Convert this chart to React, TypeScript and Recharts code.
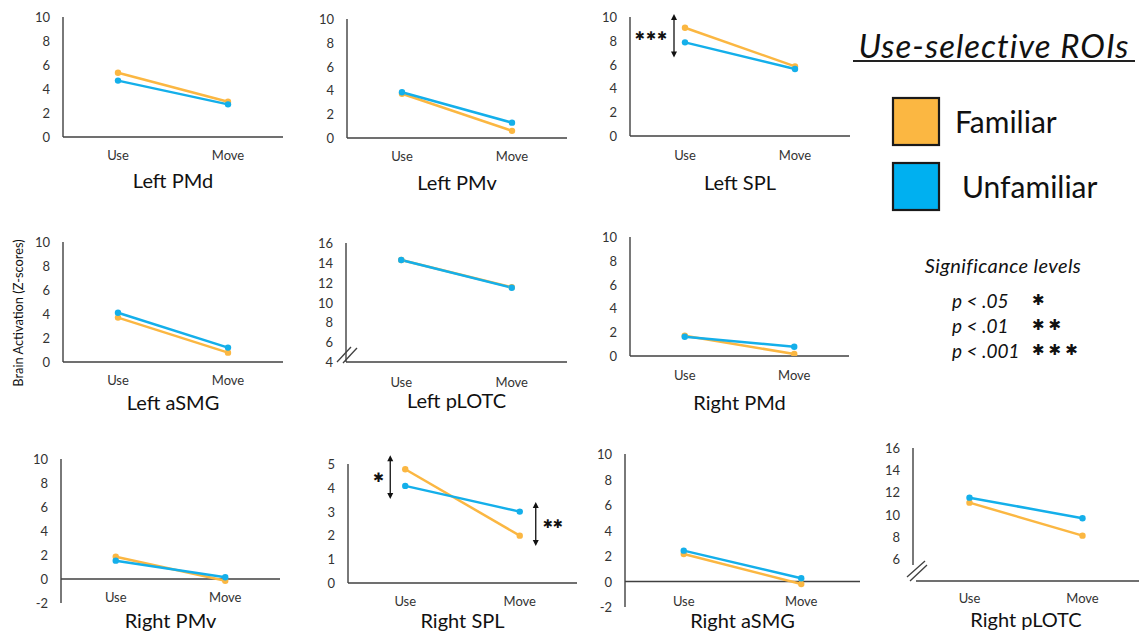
import React from 'react';
import { LineChart, Line, XAxis, YAxis, ReferenceLine } from 'recharts';

// ---------- data ----------
const conditions = ['Use', 'Move'];
const seriesNames = ['Familiar', 'Unfamiliar'];
const roiNames = [
  'Left PMd', 'Left PMv', 'Left SPL', 'Left aSMG', 'Left pLOTC',
  'Right PMd', 'Right PMv', 'Right SPL', 'Right aSMG', 'Right pLOTC',
];
const familiarValues = [
  [5.35, 2.94], [3.72, 0.6], [9.1, 5.85], [3.7, 0.78], [14.28, 11.55],
  [1.7, 0.17], [1.86, -0.14], [4.78, 1.99], [2.16, -0.2], [11.07, 8.09],
];
const unfamiliarValues = [
  [4.7, 2.72], [3.84, 1.29], [7.87, 5.63], [4.1, 1.2], [14.28, 11.49],
  [1.62, 0.78], [1.53, 0.14], [4.08, 3.0], [2.42, 0.25], [11.52, 9.66],
];
const yDomains = [
  [0, 10], [0, 10], [0, 10], [0, 10], [4, 16],
  [0, 10], [-2, 10], [0, 5], [-2, 10], [4, 16],
];
const yTickSets = [
  [0, 2, 4, 6, 8, 10], [0, 2, 4, 6, 8, 10], [0, 2, 4, 6, 8, 10], [0, 2, 4, 6, 8, 10],
  [4, 6, 8, 10, 12, 14, 16],
  [0, 2, 4, 6, 8, 10], [-2, 0, 2, 4, 6, 8, 10], [0, 1, 2, 3, 4, 5], [-2, 0, 2, 4, 6, 8, 10],
  [6, 8, 10, 12, 14, 16],
];
const significance = [
  { panel: 2, condition: 'Use', from: 10.25, to: 6.6, stars: 3 },
  { panel: 7, condition: 'Use', from: 5.37, to: 3.53, stars: 1 },
  { panel: 7, condition: 'Move', from: 3.4, to: 1.55, stars: 2 },
];
const sigLevels = ['p < .05', 'p < .01', 'p < .001'];

// ---------- layout / style ----------
const ORANGE = '#FBB742';
const BLUE = '#14AFEA';
const AXIS = '#404040';
const FONT = 'Lato, "Open Sans", sans-serif';

const layouts = [
  { axisX: 63, right: 283, top: 17, bottom: 137, labelDy: 18, titleY: 180 },
  { axisX: 347, right: 567, top: 19, bottom: 138, labelDy: 18, titleY: 182 },
  { axisX: 630, right: 850, top: 17, bottom: 136, labelDy: 19, titleY: 182 },
  { axisX: 63, right: 283, top: 242, bottom: 362, labelDy: 18, titleY: 402 },
  { axisX: 346, right: 567, top: 243, bottom: 362, labelDy: 20, titleY: 400, brk: 'through' },
  { axisX: 630, right: 849, top: 237, bottom: 356, labelDy: 19, titleY: 402 },
  { axisX: 61, right: 280, top: 459, bottom: 603, labelDy: 18, titleY: 620 },
  { axisX: 348, right: 577, top: 464, bottom: 583, labelDy: 18, titleY: 620 },
  { axisX: 625, right: 860, top: 454, bottom: 607, labelDy: 19, titleY: 620 },
  { axisX: 913, right: 1139, top: 448, bottom: 581, labelDy: 17, titleY: 619, brk: 'gap' },
];
const sigStyle = [
  { dx: -11, side: 'left', size: 12, spacing: 1 },
  { dx: -15, side: 'left', size: 13, spacing: 0 },
  { dx: 16, side: 'right', size: 12, spacing: 0 },
];

const YW = 45;
const MT = 14;
const XH = 40;
const TICK_FS = 13;

function makeSigShape(dx: number, stars: number, side: string, size: number, spacing: number) {
  return (p: any) => {
    const x = p.x1 + dx;
    const ya = Math.min(p.y1, p.y2);
    const yb = Math.max(p.y1, p.y2);
    const hl = 5;
    const hw = 3;
    const tx = side === 'left' ? x - 6 : x + 7;
    return (
      <g>
        <line x1={x} y1={ya + hl} x2={x} y2={yb - hl} stroke="#111" strokeWidth={1.3} />
        <polygon points={`${x},${ya} ${x - hw},${ya + hl + 1} ${x + hw},${ya + hl + 1}`} fill="#111" />
        <polygon points={`${x},${yb} ${x - hw},${yb - hl - 1} ${x + hw},${yb - hl - 1}`} fill="#111" />
        <text
          x={tx}
          y={(ya + yb) / 2}
          textAnchor={side === 'left' ? 'end' : 'start'}
          dominantBaseline="central"
          fontFamily="DejaVu Sans"
          fontSize={size}
          letterSpacing={spacing}
          fill="#111"
        >
          {'\u2731'.repeat(stars)}
        </text>
      </g>
    );
  };
}

function Panel({ i }: { i: number }) {
  const L = layouts[i];
  const plotH = L.bottom - L.top;
  const plotW = L.right - L.axisX;
  const w = YW + plotW;
  const h = MT + plotH + XH;
  const [lo, hi] = yDomains[i];
  const hasNeg = lo < 0;
  const zeroLocal = MT + (plotH * hi) / (hi - lo);
  const axisLineLocal = hasNeg ? zeroLocal : MT + plotH;
  const pad = plotW / 4;
  const data = conditions.map((c, k) => ({
    condition: c,
    familiar: familiarValues[i][k],
    unfamiliar: unfamiliarValues[i][k],
  }));
  const sigs = significance
    .map((s, k) => ({ ...s, k }))
    .filter((s) => s.panel === i);

  return (
    <div style={{ position: 'absolute', left: L.axisX - YW, top: L.top - MT }}>
      <LineChart width={w} height={h} data={data} margin={{ top: MT, right: 0, bottom: 0, left: 0 }}>
        <XAxis
          dataKey="condition"
          height={XH}
          interval={0}
          padding={{ left: pad, right: pad }}
          axisLine={hasNeg ? false : { stroke: AXIS, strokeWidth: 1.4 }}
          tickLine={false}
          tick={(p: any) => (
            <text
              x={p.x}
              y={axisLineLocal + L.labelDy}
              textAnchor="middle"
              dominantBaseline="central"
              fontFamily={FONT}
              fontSize={TICK_FS}
              fill="#333"
            >
              {p.payload.value}
            </text>
          )}
        />
        <YAxis
          type="number"
          width={YW}
          domain={yDomains[i]}
          ticks={yTickSets[i]}
          interval={0}
          allowDataOverflow
          axisLine={L.brk === 'gap' ? false : { stroke: AXIS, strokeWidth: 1.4 }}
          tickLine={false}
          tick={(p: any) => (
            <text
              x={YW - 13}
              y={p.y}
              textAnchor="end"
              dominantBaseline="central"
              fontFamily={FONT}
              fontSize={TICK_FS}
              fill="#333"
            >
              {p.payload.value}
            </text>
          )}
        />
        {hasNeg && <ReferenceLine y={0} stroke={AXIS} strokeWidth={1.4} />}
        <Line
          type="linear"
          dataKey="familiar"
          name={seriesNames[0]}
          stroke={ORANGE}
          strokeWidth={2.5}
          dot={{ r: 3.2, fill: ORANGE, stroke: ORANGE, strokeWidth: 0 }}
          isAnimationActive={false}
        />
        <Line
          type="linear"
          dataKey="unfamiliar"
          name={seriesNames[1]}
          stroke={BLUE}
          strokeWidth={2.5}
          dot={{ r: 3.2, fill: BLUE, stroke: BLUE, strokeWidth: 0 }}
          isAnimationActive={false}
        />
        {sigs.map((s) => {
          const st = sigStyle[s.k];
          return (
            <ReferenceLine
              key={s.k}
              ifOverflow="visible"
              segment={[
                { x: s.condition, y: s.from },
                { x: s.condition, y: s.to },
              ]}
              shape={makeSigShape(st.dx, s.stars, st.side, st.size, st.spacing)}
            />
          );
        })}
      </LineChart>
    </div>
  );
}

function Overlay() {
  return (
    <svg
      width={1139}
      height={632}
      style={{ position: 'absolute', left: 0, top: 0, pointerEvents: 'none' }}
    >
      {roiNames.map((n, i) => {
        const L = layouts[i];
        return (
          <text
            key={n}
            x={(L.axisX + L.right) / 2}
            y={L.titleY}
            textAnchor="middle"
            dominantBaseline="central"
            fontFamily={FONT}
            fontSize={20}
            fill="#111"
          >
            {n}
          </text>
        );
      })}
      {layouts.map((L, i) => {
        if (L.brk === 'through') {
          return (
            <g key={'b' + i}>
              <line x1={L.axisX - 9} y1={L.bottom} x2={L.axisX + 5} y2={L.bottom - 15} stroke={AXIS} strokeWidth={1.3} />
              <line x1={L.axisX - 3} y1={L.bottom + 1} x2={L.axisX + 11} y2={L.bottom - 14} stroke={AXIS} strokeWidth={1.3} />
            </g>
          );
        }
        if (L.brk === 'gap') {
          return (
            <g key={'b' + i}>
              <rect x={L.axisX - 2} y={L.bottom - 2} width={5} height={4} fill="#fff" />
              <line x1={L.axisX} y1={L.top} x2={L.axisX} y2={L.bottom - 16} stroke={AXIS} strokeWidth={1.4} />
              <line x1={L.axisX - 6} y1={L.bottom - 4} x2={L.axisX + 12} y2={L.bottom - 20} stroke={AXIS} strokeWidth={1.3} />
              <line x1={L.axisX - 3} y1={L.bottom} x2={L.axisX + 14} y2={L.bottom - 16} stroke={AXIS} strokeWidth={1.3} />
            </g>
          );
        }
        return null;
      })}
      <text
        x={18}
        y={313}
        transform="rotate(-90 18 313)"
        textAnchor="middle"
        dominantBaseline="central"
        fontFamily={FONT}
        fontSize={12.8}
        fill="#111"
      >
        Brain Activation (Z-scores)
      </text>
      <text x={994} y={45} textAnchor="middle" dominantBaseline="central" fontFamily={FONT} fontStyle="italic" fontSize={33} letterSpacing={1} fill="#111">
        Use-selective ROIs
      </text>
      <line x1={853} y1={61} x2={1135} y2={61} stroke="#222" strokeWidth={2.2} />
      {seriesNames.map((n, k) => (
        <g key={n}>
          <rect x={893} y={98 + k * 65} width={46} height={47} fill={k === 0 ? ORANGE : '#00B0F0'} stroke="#1a1a1a" strokeWidth={2.2} />
          <text x={k === 0 ? 955 : 962} y={121 + k * 65} dominantBaseline="central" fontFamily={FONT} fontSize={30} fill="#111">
            {n}
          </text>
        </g>
      ))}
      <text x={1003} y={265} textAnchor="middle" dominantBaseline="central" fontFamily={FONT} fontStyle="italic" fontSize={20} letterSpacing={0.4} fill="#111">
        Significance levels
      </text>
      {sigLevels.map((s, k) => (
        <g key={s}>
          <text x={952} y={300 + k * 25} dominantBaseline="central" fontFamily={FONT} fontStyle="italic" fontSize={19} fill="#111">
            {s}
          </text>
          <text x={1032} y={300 + k * 25} dominantBaseline="central" fontFamily="DejaVu Sans" fontSize={15} letterSpacing={4} fill="#111">
            {'\u2731'.repeat(k + 1)}
          </text>
        </g>
      ))}
    </svg>
  );
}

export default function App() {
  return (
    <div style={{ position: 'absolute', left: 0, top: 0, width: 1139, height: 632, background: '#fff', overflow: 'hidden' }}>
      {roiNames.map((n, i) => (
        <Panel key={n} i={i} />
      ))}
      <Overlay />
    </div>
  );
}
